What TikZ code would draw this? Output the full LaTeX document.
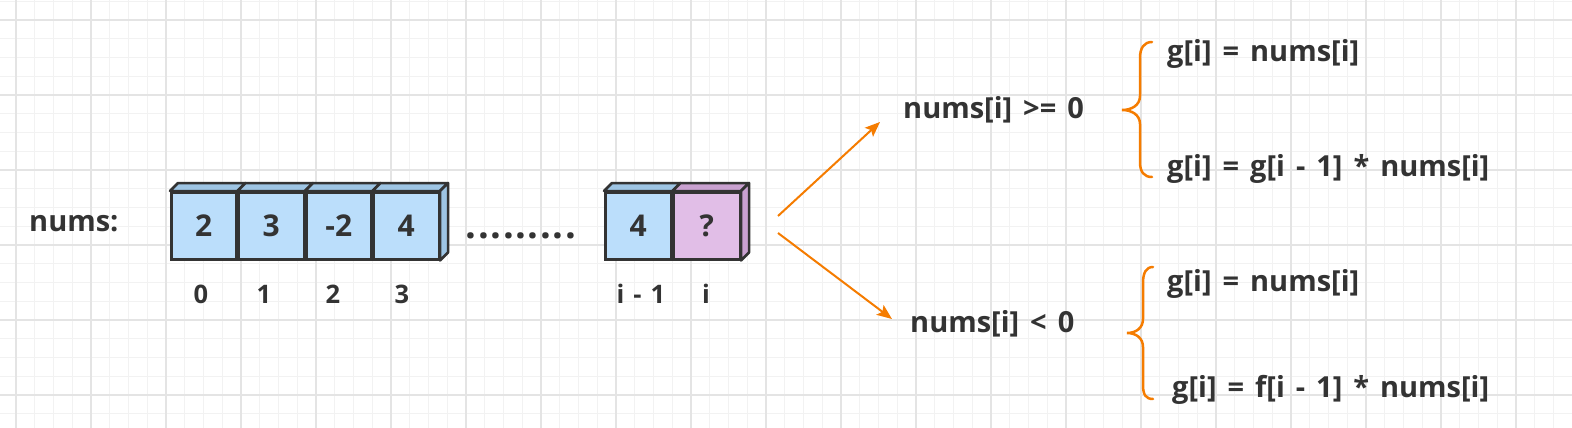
\documentclass[tikz,border=0pt]{standalone}
\usepackage{fontspec}
\setmainfont{Open Sans}
\usetikzlibrary{arrows.meta,calc}
\definecolor{ink}{HTML}{333333}
\definecolor{cellblue}{HTML}{BBDEFB}
\definecolor{topblue}{HTML}{9EC5E4}
\definecolor{cellpurple}{HTML}{E1BEE7}
\definecolor{toppurple}{HTML}{C9A1D0}
\definecolor{orng}{HTML}{F57C00}
\definecolor{gridminor}{HTML}{F2F2F2}
\definecolor{gridmajor}{HTML}{E4E4E4}
\newcommand\wideSpaceA{\spaceskip 11pt\relax}
\newcommand\wideSpaceB{\spaceskip 9pt\relax}
\begin{document}
\begin{tikzpicture}[x=1pt,y=-1pt,
  cell/.style={draw=ink,line width=2.5pt,minimum width=65pt,minimum height=67pt,inner sep=0pt,anchor=north west,font=\fontsize{30}{30}\selectfont\bfseries,text=ink},
  face/.style={draw=ink,line width=2.5pt,line join=round},
  lbl/.style={font=\fontsize{29}{29}\selectfont\bfseries\wideSpaceA,text=ink,inner sep=0pt,anchor=base west},
  idx/.style={font=\fontsize{25.5}{25.5}\selectfont\bfseries\wideSpaceB,text=ink,inner sep=0pt,anchor=base},
  formula/.style={font=\fontsize{29}{29}\selectfont\bfseries\wideSpaceA,text=ink,inner sep=0pt,anchor=base west},
  conn/.style={draw=orng,line width=2pt,-{Stealth[length=15pt,width=12pt,inset=3pt]}},
  bracestyle/.style={draw=orng,line width=2.5pt,line cap=round},
  gminor/.style={draw=gridminor,line width=1pt},
  gmajor/.style={draw=gridmajor,line width=1.3pt},
]
\useasboundingbox (0,0) rectangle (1572,428);
\fill[white] (0,0) rectangle (1572,428);
% grid
\foreach \k in {-1,...,83} \draw[gminor] ({16+18.75*\k},0) -- ({16+18.75*\k},428);
\foreach \k in {-1,...,22} \draw[gminor] (0,{20+18.75*\k}) -- (1572,{20+18.75*\k});
\foreach \k in {0,...,20} \draw[gmajor] ({16+75*\k},0) -- ({16+75*\k},428);
\foreach \k in {0,...,5} \draw[gmajor] (0,{20+75*\k}) -- (1572,{20+75*\k});
% cells
\node[cell,fill=cellblue] (c0) at (170,191) {2};
\node[cell,fill=cellblue] (c1) at (c0.north east) {3};
\node[cell,fill=cellblue] (c2) at (c1.north east) {-2};
\node[cell,fill=cellblue] (c3) at (c2.north east) {4};
\node[cell,fill=cellblue,minimum width=66pt] (c4) at (604,191) {4};
\node[cell,fill=cellpurple,minimum width=66pt] (c5) at (c4.north east) {?};
\foreach \c in {c0,c1,c2,c3,c4}
  \draw[face,fill=topblue] (\c.north west) -- ++(8,-8) -- ($(\c.north east)+(8,-8)$) -- (\c.north east) -- cycle;
\draw[face,fill=topblue] (c3.north east) -- ++(8,-8) -- ($(c3.south east)+(8,-8)$) -- (c3.south east) -- cycle;
\draw[face,fill=toppurple] (c5.north west) -- ++(8,-8) -- ($(c5.north east)+(8,-8)$) -- (c5.north east) -- cycle;
\draw[face,fill=toppurple] (c5.north east) -- ++(8,-8) -- ($(c5.south east)+(8,-8)$) -- (c5.south east) -- cycle;
% labels
\node[lbl] (numslbl) at (29,231) {nums:};
\node[font=\fontsize{38}{38}\selectfont\bfseries,text=ink,inner sep=0pt,anchor=base] (dots) at (521,238) {.\kern1.6pt.\kern1.6pt.\kern1.6pt.\kern1.6pt.\kern1.6pt.\kern1.6pt.\kern1.6pt.\kern1.6pt.};
\node[idx] (i0) at (201,303) {0};
\node[idx] (i1) at (264,303) {1};
\node[idx] (i2) at (333,303) {2};
\node[idx] (i3) at (402,303) {3};
\node[idx] (i4) at (641,303) {i - 1};
\node[idx] (i5) at (706,303) {i};
% conditions
\node[lbl] (pos) at (903,118) {nums[i] >= 0};
\node[lbl] (neg) at (910,332) {nums[i] < 0};
\coordinate (s1) at (778,216);
\coordinate (e1) at (880,122);
\coordinate (s2) at (778,233);
\coordinate (e2) at (892,319);
\draw[conn] (s1) -- (e1);
\draw[conn] (s2) -- (e2);
% braces
\draw[bracestyle] (1152,42) .. controls (1144,42) and (1140,48) .. (1140,58) -- (1140,96)
  .. controls (1140,105) and (1132,110) .. (1122,110)
  .. controls (1132,110) and (1140,115) .. (1140,124) -- (1140,162)
  .. controls (1140,172) and (1144,177) .. (1152,177);
\draw[bracestyle] (1153,267) .. controls (1146,267) and (1143,273) .. (1143,283) -- (1143,319)
  .. controls (1143,328) and (1136,333) .. (1127,333)
  .. controls (1136,333) and (1143,338) .. (1143,347) -- (1143,385)
  .. controls (1143,395) and (1146,399) .. (1153,399);
% formulas
\node[formula] (f1) at (1167,62) {g[i] = nums[i]};
\node[formula] (f2) at (1167,176) {g[i] = g[i - 1] * nums[i]};
\node[formula] (f3) at (1167,291) {g[i] = nums[i]};
\node[formula] (f4) at (1172,397) {g[i] = f[i - 1] * nums[i]};
\end{tikzpicture}
\end{document}
